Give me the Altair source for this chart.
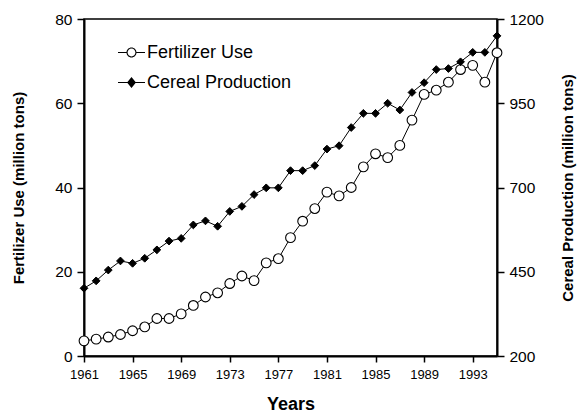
import altair as alt
import pandas as pd

years = list(range(1961, 1996))
fertilizer = [3.6, 4.0, 4.5, 5.1, 6.0, 6.9, 8.9, 8.9, 10.0, 12.0,
              14.0, 15.0, 17.2, 19.0, 17.9, 22.1, 23.1, 28.1, 32.0, 35.0,
              38.9, 38.0, 40.0, 44.9, 48.0, 47.1, 50.0, 56.0, 62.1, 63.1,
              65.0, 68.0, 69.0, 65.0, 72.0]
cereal = [401, 423, 455, 482, 475, 490, 515, 541, 549, 589,
          601, 585, 629, 644, 679, 699, 699, 750, 750, 765,
          814, 824, 878, 920, 920, 950, 930, 982, 1011, 1050,
          1053, 1073, 1101, 1101, 1150]
series_names = ["Fertilizer Use", "Cereal Production"]
x_ticks = [1961, 1965, 1969, 1973, 1977, 1981, 1985, 1989, 1993]
left_ticks = [0, 20, 40, 60, 80]
right_ticks = [200, 450, 700, 950, 1200]

df = pd.DataFrame({"year": years, "fert": fertilizer, "cereal": cereal})

FONT = "Liberation Sans"

x_enc = alt.X("year:Q",
              scale=alt.Scale(domain=[1961, 1995], nice=False, zero=False),
              axis=alt.Axis(values=x_ticks, format="d", title="Years",
                            titleFontSize=18, titlePadding=14, labelPadding=6,
                            labelFontSize=13, tickSize=6, labelFlush=False,
                            labelOverlap=False))

y_left = alt.Y("fert:Q", scale=alt.Scale(domain=[0, 80], nice=False),
               axis=alt.Axis(values=left_ticks, format="d",
                             title="Fertilizer Use (million tons)",
                             orient="left", titlePadding=28, labelPadding=5,
                             labelFontSize=15.5, tickSize=7, labelFlush=False,
                             labelOverlap=False))
y_right = alt.Y("cereal:Q", scale=alt.Scale(domain=[200, 1200], nice=False, zero=False),
                axis=alt.Axis(values=right_ticks, format="d",
                              title="Cereal Production (million tons)",
                              orient="right", titlePadding=32, titleAngle=-90,
                              labelPadding=5, labelFontSize=15.5, tickSize=7,
                              labelFlush=False, labelOverlap=False))

base = alt.Chart(df)

fert_line = base.mark_line(color="black", strokeWidth=1).encode(x=x_enc, y=y_left)
fert_pts = base.mark_point(shape="circle", filled=True, fill="white", stroke="black",
                           strokeWidth=1.1, size=95, opacity=1).encode(x=x_enc, y=y_left)
cer_line = base.mark_line(color="black", strokeWidth=1).encode(x=x_enc, y=y_right)
cer_pts = base.mark_point(shape="diamond", filled=True, fill="black", stroke="black",
                          strokeWidth=1, size=60, opacity=1).encode(x=x_enc, y=y_right)

fert_layer = alt.layer(fert_line, fert_pts)
cer_layer = alt.layer(cer_line, cer_pts)

# Legend-only layer (no rows drawn; legend built from explicit domain).
# Symbols are filled paths: line stubs + ring (open circle) / diamond.
fert_sym = ("M-1,-0.04L-0.37,-0.04L-0.37,0.04L-1,0.04Z"
            "M0.37,-0.04L1,-0.04L1,0.04L0.37,0.04Z"
            "M-0.37,0A0.37,0.37,0,1,1,0.37,0A0.37,0.37,0,1,1,-0.37,0Z"
            "M-0.29,0A0.29,0.29,0,1,0,0.29,0A0.29,0.29,0,1,0,-0.29,0Z")
cer_sym = ("M-1,-0.04L-0.3,-0.04L-0.3,0.04L-1,0.04Z"
           "M0.3,-0.04L1,-0.04L1,0.04L0.3,0.04Z"
           "M0,-0.4L0.33,0L0,0.4L-0.33,0Z")
leg_df = pd.DataFrame({"series": series_names})
legend_layer = alt.Chart(leg_df).transform_filter("datum.series == 'none'").mark_point(
    filled=True, fill="black", strokeWidth=0, opacity=1
).encode(
    shape=alt.Shape("series:N",
                    scale=alt.Scale(domain=series_names, range=[fert_sym, cer_sym]),
                    legend=alt.Legend(title=None, orient="none", legendX=33, legendY=19,
                                      symbolSize=729, labelFontSize=18, labelFont=FONT,
                                      labelColor="black", labelOffset=1, rowPadding=6,
                                      symbolFillColor="black", symbolOpacity=1)),
)

chart = alt.layer(fert_layer, cer_layer, legend_layer).resolve_scale(
    y="independent"
).properties(
    width=413, height=337,
    autosize=alt.AutoSizeParams(type="none"),
    padding={"left": 76, "top": 11, "right": 80, "bottom": 56},
).configure_view(
    stroke="black", strokeWidth=1.5
).configure_axis(
    domainColor="black", domainWidth=2, tickColor="black", tickWidth=1.5,
    labelFont=FONT, labelColor="black", grid=False,
    titleFont=FONT, titleFontSize=15, titleFontWeight="bold", titleColor="black",
)

chart.save("out.html", embed_options={"renderer": "svg", "actions": False})
